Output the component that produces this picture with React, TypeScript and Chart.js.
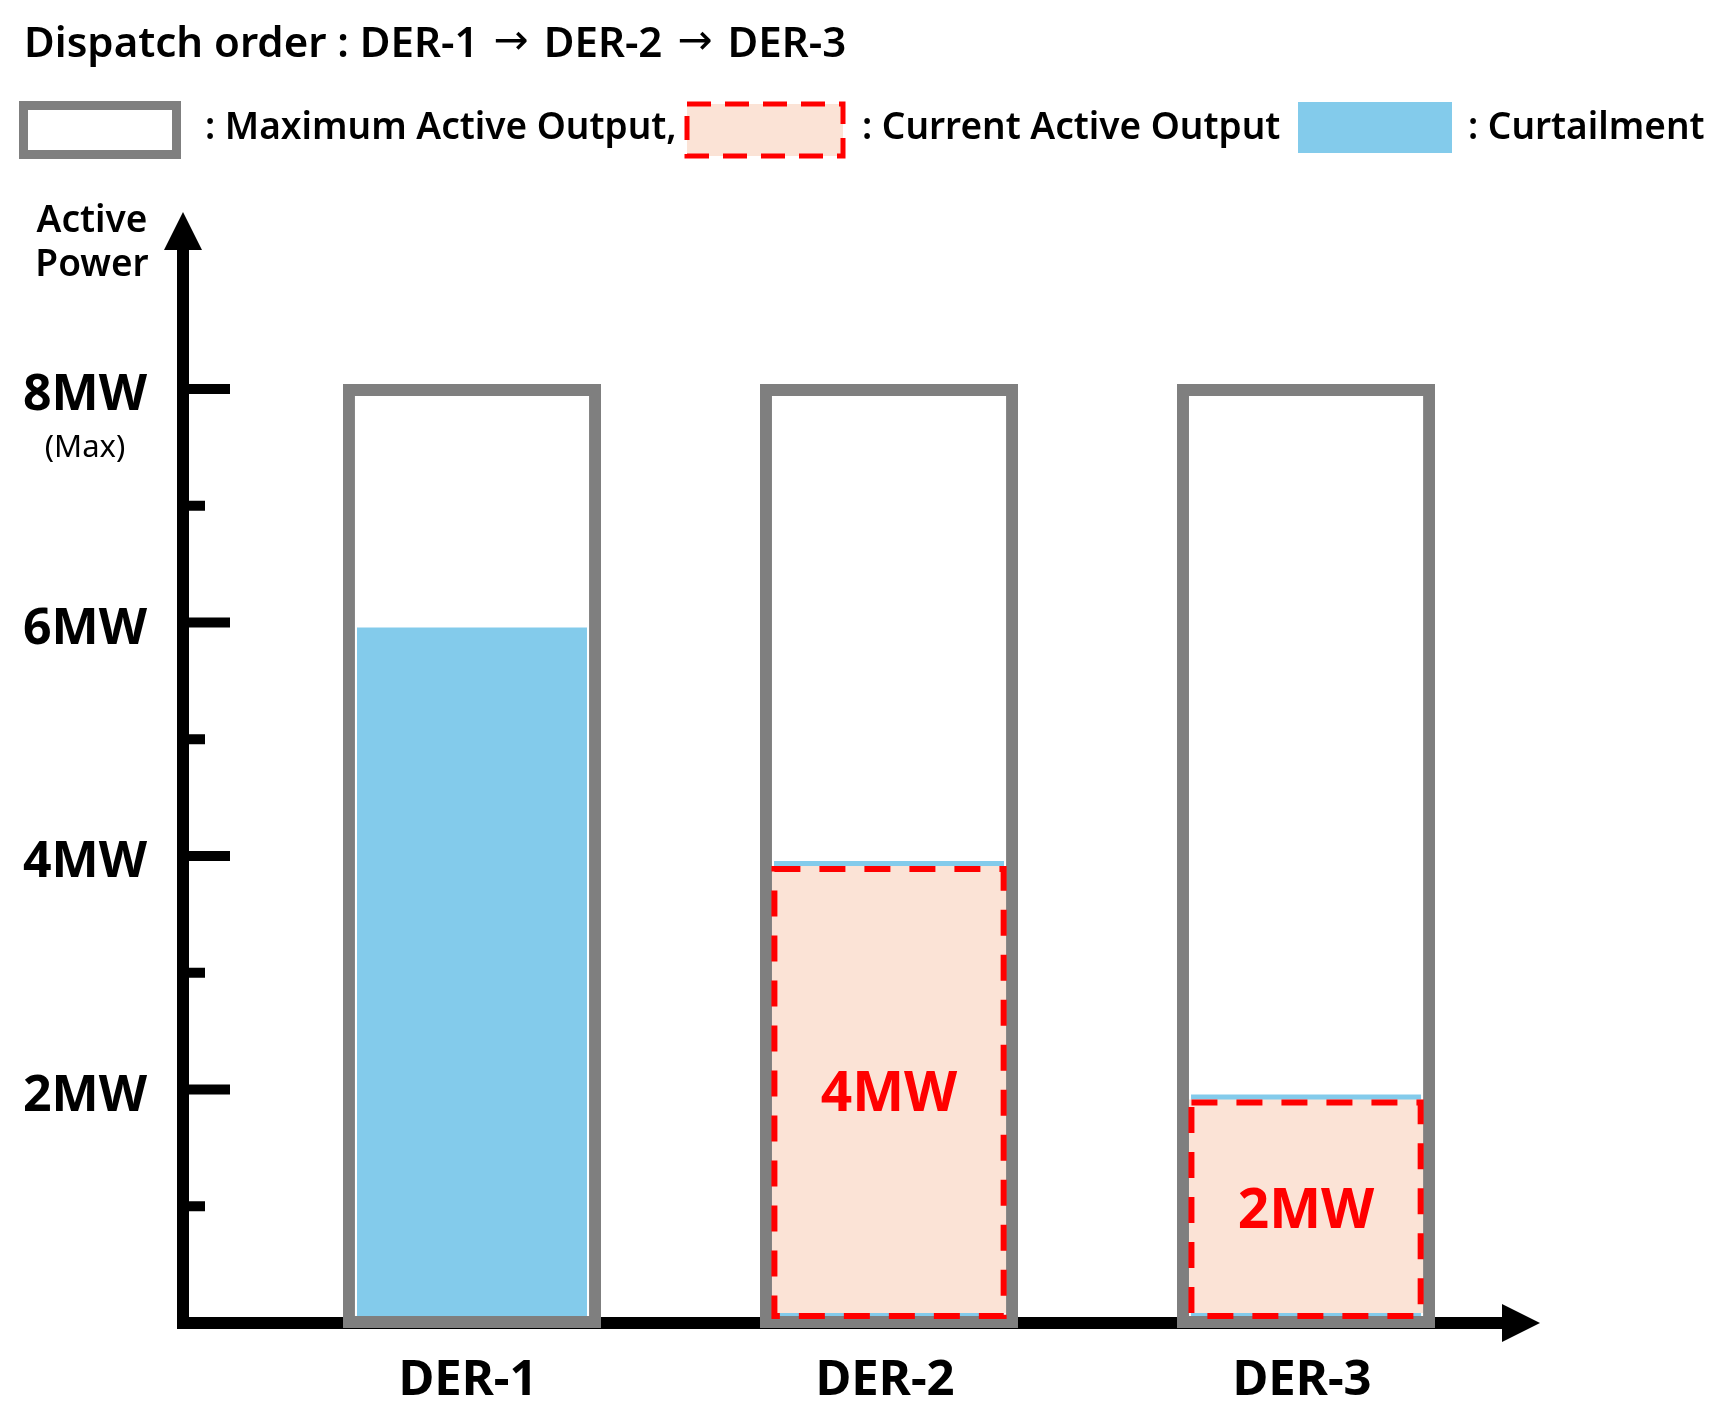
import React, { useEffect, useRef } from 'react';
import { Chart, registerables } from 'chart.js';

Chart.register(...registerables);

// ---------------- data ----------------
const categories = ['DER-1', 'DER-2', 'DER-3'];
const maxOutput = [8, 8, 8];
const curtailment = [6, 4, 2];
const currentOutput: (number | null)[] = [null, 4, 2];
const yMajorTicks = [2, 4, 6, 8];
const yMajorLabels = ['2MW', '4MW', '6MW', '8MW'];
const yMinorTicks = [1, 3, 5, 7];
const yMaxNote = '(Max)';
const yAxisTitle = ['Active', 'Power'];
const titleParts = ['Dispatch order : DER-1', 'DER-2', 'DER-3'];
const legendLabels = [': Maximum Active Output,', ': Current Active Output', ': Curtailment'];

// ---------------- styles ----------------
const GRAY = '#7F7F7F';
const BLUE = '#83CBEB';
const PEACH = '#FBE3D6';
const RED = '#FF0000';
const FONT = '"Noto Sans", "Open Sans", sans-serif';

const overlayPlugin = {
  id: 'overlay',
  beforeDatasetsDraw(chart: any) {
    const { ctx, chartArea: a, scales } = chart;
    const y = scales.y;
    const lw = 12;
    const head = 38;
    const half = 19;
    ctx.save();
    ctx.fillStyle = '#000';
    // y axis line + arrow
    ctx.fillRect(a.left - lw / 2, a.top + head - 1, lw, a.bottom - a.top - head + 1 + lw / 2);
    ctx.beginPath();
    ctx.moveTo(a.left, a.top);
    ctx.lineTo(a.left - half, a.top + head);
    ctx.lineTo(a.left + half, a.top + head);
    ctx.closePath();
    ctx.fill();
    // x axis line + arrow
    ctx.fillRect(a.left - lw / 2, a.bottom - lw / 2, a.right - head - a.left + lw / 2 + 1, lw);
    ctx.beginPath();
    ctx.moveTo(a.right, a.bottom);
    ctx.lineTo(a.right - head, a.bottom - half);
    ctx.lineTo(a.right - head, a.bottom + half);
    ctx.closePath();
    ctx.fill();
    // tick marks (inside, to the right of the axis)
    yMajorTicks.forEach((v) => {
      const py = y.getPixelForValue(v);
      ctx.fillRect(a.left, py - 5, 47, 10);
    });
    yMinorTicks.forEach((v) => {
      const py = y.getPixelForValue(v);
      ctx.fillRect(a.left, py - 5, 22, 10);
    });
    ctx.restore();
  },
  afterDatasetsDraw(chart: any) {
    const { ctx } = chart;
    const meta = chart.getDatasetMeta(2);
    ctx.save();
    meta.data.forEach((el: any, i: number) => {
      const v = currentOutput[i];
      if (v === null || v === undefined) return;
      const { x, y, base, width } = el.getProps(['x', 'y', 'base', 'width'], true);
      const inset = 13;
      ctx.setLineDash([26, 19]);
      ctx.lineWidth = 6;
      ctx.strokeStyle = RED;
      ctx.strokeRect(x - width / 2 + inset, y + inset, width - 2 * inset, base - y - inset - 7);
      ctx.setLineDash([]);
      ctx.fillStyle = RED;
      ctx.font = `bold 55px ${FONT}`;
      ctx.textAlign = 'center';
      ctx.textBaseline = 'middle';
      ctx.fillText(`${v}MW`, x, (y + base) / 2 + 6);
    });
    ctx.restore();
  },
  afterDraw(chart: any) {
    const { ctx, scales } = chart;
    const y = scales.y;
    ctx.save();
    ctx.fillStyle = '#000';
    ctx.textAlign = 'center';
    ctx.textBaseline = 'middle';
    ctx.font = `600 37px ${FONT}`;
    ctx.fillText(yAxisTitle[0], 92, 221);
    ctx.fillText(yAxisTitle[1], 92, 265);
    ctx.font = `31px ${FONT}`;
    ctx.fillText(yMaxNote, 85, y.getPixelForValue(8) + 59);
    ctx.restore();
  },
};

function ChartCanvas() {
  const ref = useRef<HTMLCanvasElement | null>(null);
  useEffect(() => {
    if (!ref.current) return;
    const xs = categories.map((_, i) => i + 1);
    const chart = new Chart(ref.current, {
      type: 'bar',
      data: {
        datasets: [
          {
            label: 'Maximum Active Output',
            data: xs.map((x, i) => ({ x, y: maxOutput[i] })),
            backgroundColor: 'rgba(255,255,255,0)',
            borderColor: GRAY,
            borderWidth: 2,
            borderSkipped: false,
            inflateAmount: 5,
            barPercentage: 0.595,
            categoryPercentage: 1,
            grouped: false,
            order: 0,
            clip: false,
          } as any,
          {
            label: 'Curtailment',
            data: xs.map((x, i) => ({ x, y: curtailment[i] })),
            backgroundColor: BLUE,
            borderWidth: 0,
            inflateAmount: -5,
            barPercentage: 0.5755,
            categoryPercentage: 1,
            grouped: false,
            order: 2,
            clip: false,
          } as any,
          {
            label: 'Current Active Output',
            data: xs.map((x, i) => ({ x, y: currentOutput[i] })),
            backgroundColor: PEACH,
            borderWidth: 0,
            inflateAmount: -10,
            barPercentage: 0.612,
            categoryPercentage: 1,
            grouped: false,
            order: 1,
            clip: false,
          } as any,
        ],
      },
      options: {
        responsive: false,
        animation: false,
        events: [],
        layout: { padding: { top: 212, right: 178, left: 0, bottom: 0 } },
        plugins: {
          legend: { display: false },
          tooltip: { enabled: false },
          title: { display: false },
        },
        scales: {
          x: {
            type: 'linear',
            offset: false,
            min: 0.307,
            max: 3.561,
            grid: { display: false, drawTicks: false, offset: false },
            border: { display: false },
            afterBuildTicks: (scale: any) => {
              scale.ticks = xs.map((v) => ({ value: v }));
            },
            afterFit: (scale: any) => {
              scale.height = 97;
            },
            ticks: {
              autoSkip: false,
              maxRotation: 0,
              padding: 29,
              labelOffset: -4,
              color: '#000',
              font: { family: FONT, size: 49, weight: 'bold' },
              callback: (v: any) => categories[Math.round(v) - 1] ?? '',
            },
          },
          y: {
            type: 'linear',
            min: 0,
            max: 9.516,
            grid: { display: false, drawTicks: false },
            border: { display: false },
            afterBuildTicks: (scale: any) => {
              scale.ticks = yMajorTicks.map((v) => ({ value: v }));
            },
            afterFit: (scale: any) => {
              scale.width = 183;
            },
            ticks: {
              autoSkip: false,
              padding: 36,
              labelOffset: 7,
              color: '#000',
              font: { family: FONT, size: 50, weight: 'bold' },
              callback: (v: any) => {
                const idx = yMajorTicks.indexOf(Math.round(v));
                return idx >= 0 ? yMajorLabels[idx] : '';
              },
            },
          },
        },
      } as any,
      plugins: [overlayPlugin],
    });
    return () => chart.destroy();
  }, []);
  return (
    <canvas
      ref={ref}
      width={1718}
      height={1420}
      style={{ position: 'absolute', left: 0, top: 0, width: 1718, height: 1420 }}
    />
  );
}

const textBase: React.CSSProperties = {
  position: 'absolute',
  whiteSpace: 'nowrap',
  lineHeight: 1,
  color: '#000',
  fontFamily: FONT,
};

const arrowStyle: React.CSSProperties = {
  fontFamily: '"DejaVu Sans", sans-serif',
  fontWeight: 400,
  fontSize: 42,
  margin: '0 15px',
  position: 'relative',
  top: -3,
};

export default function App() {
  return (
    <div
      style={{
        position: 'absolute',
        left: 0,
        top: 0,
        width: 1718,
        height: 1420,
        background: '#FFFFFF',
        overflow: 'hidden',
      }}
    >
      <ChartCanvas />
      <div style={{ ...textBase, left: 24, top: 20, fontSize: 42, fontWeight: 600 }}>
        {titleParts[0]}
        <span style={arrowStyle}>{'\u2192'}</span>
        {titleParts[1]}
        <span style={arrowStyle}>{'\u2192'}</span>
        {titleParts[2]}
      </div>
      {/* legend swatches */}
      <div
        style={{
          position: 'absolute',
          left: 19,
          top: 101,
          width: 162,
          height: 58,
          boxSizing: 'border-box',
          border: `9px solid ${GRAY}`,
          background: '#FFFFFF',
        }}
      />
      <div style={{ ...textBase, left: 205, top: 106, fontSize: 37, fontWeight: 600 }}>{legendLabels[0]}</div>
      <svg
        width={162}
        height={58}
        style={{ position: 'absolute', left: 684, top: 101 }}
      >
        <rect x={3} y={3} width={156} height={52} fill={PEACH} />
        <rect
          x={3}
          y={3}
          width={156}
          height={52}
          fill="none"
          stroke={RED}
          strokeWidth={5}
          strokeDasharray="24 14"
        />
      </svg>
      <div style={{ ...textBase, left: 862, top: 106, fontSize: 37, fontWeight: 600 }}>{legendLabels[1]}</div>
      <div
        style={{
          position: 'absolute',
          left: 1298,
          top: 102,
          width: 154,
          height: 51,
          background: BLUE,
        }}
      />
      <div style={{ ...textBase, left: 1468, top: 106, fontSize: 37, fontWeight: 600 }}>{legendLabels[2]}</div>
    </div>
  );
}
